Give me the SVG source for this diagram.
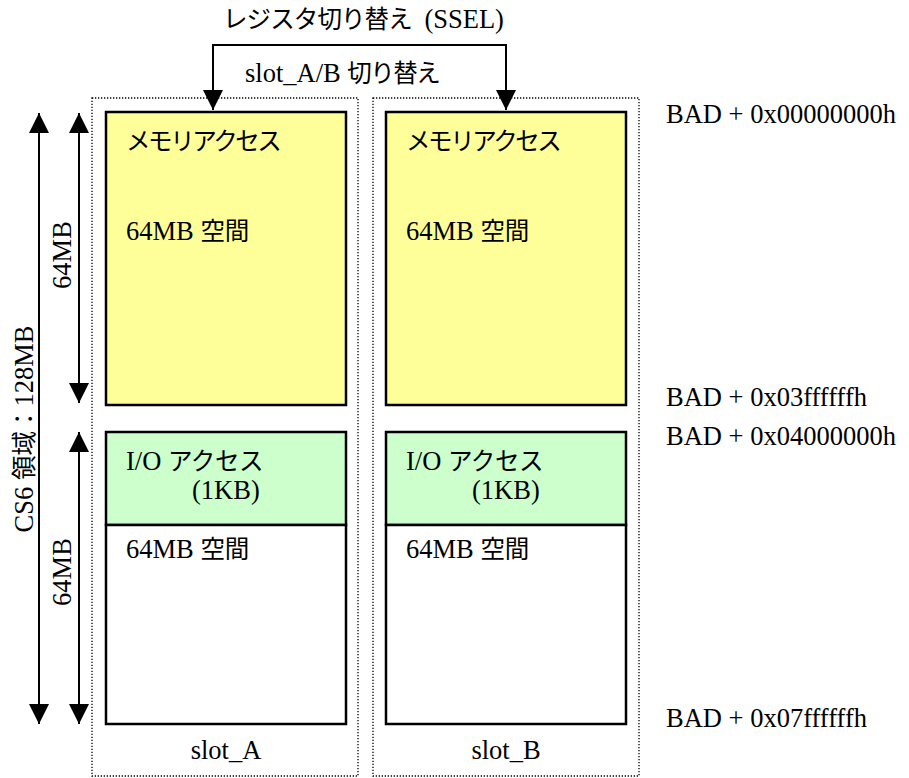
<svg xmlns="http://www.w3.org/2000/svg" width="909" height="778" viewBox="0 0 909 778">
<style>
.lat{font-family:"Liberation Serif","Times New Roman",serif;font-size:26.5px;fill:#000}
.jp{font-family:"Noto Sans CJK JP","Noto Sans CJK SC",sans-serif;font-size:24.5px}
.kata{letter-spacing:-2.4px}
.kata2{letter-spacing:-0.4px}
.top{letter-spacing:-0.9px}
.frame{fill:none;stroke:#000;stroke-width:1.3;stroke-dasharray:1.3 1.7}
.mem{fill:#FFFF99;stroke:#000;stroke-width:2.5}
.io{fill:#CCFFCC;stroke:#000;stroke-width:2.5}
.sp{fill:#FFFFFF;stroke:#000;stroke-width:2.5}
.wire{fill:none;stroke:#000;stroke-width:2}
</style>
<defs>
<marker id="ah" markerUnits="userSpaceOnUse" markerWidth="20" markerHeight="20" refX="20" refY="10" orient="auto-start-reverse" viewBox="0 0 20 20">
<path d="M0,0 L20,10 L0,20 Z" fill="#000"/>
</marker>
</defs>
<rect width="909" height="778" fill="#fff"/>

<g id="slot_A">
<rect class="frame" x="92" y="98" width="266" height="678"/>
<rect class="mem" x="106" y="112" width="240" height="293"/>
<rect class="io" x="106" y="432" width="240" height="93"/>
<rect class="sp" x="106" y="525" width="240" height="199"/>
<text class="jp kata" x="126" y="150">メモリアクセス</text>
<text class="lat" x="126" y="240">64MB <tspan class="jp">空間</tspan></text>
<text class="lat" x="126" y="470">I/O <tspan class="jp kata2">アクセス</tspan></text>
<text class="lat" x="192" y="499">(1KB)</text>
<text class="lat" x="126" y="558">64MB <tspan class="jp">空間</tspan></text>
<text class="lat" x="226" y="759" text-anchor="middle">slot_A</text>
</g>

<g id="slot_B">
<rect class="frame" x="373" y="98" width="266" height="678"/>
<rect class="mem" x="386" y="112" width="240" height="293"/>
<rect class="io" x="386" y="432" width="240" height="93"/>
<rect class="sp" x="386" y="525" width="240" height="199"/>
<text class="jp kata" x="406" y="150">メモリアクセス</text>
<text class="lat" x="406" y="240">64MB <tspan class="jp">空間</tspan></text>
<text class="lat" x="406" y="470">I/O <tspan class="jp kata2">アクセス</tspan></text>
<text class="lat" x="472" y="499">(1KB)</text>
<text class="lat" x="406" y="558">64MB <tspan class="jp">空間</tspan></text>
<text class="lat" x="506" y="759" text-anchor="middle">slot_B</text>
</g>

<g id="addresses">
<text class="lat" x="666" y="123">BAD + 0x00000000h</text>
<text class="lat" x="666" y="406">BAD + 0x03ffffffh</text>
<text class="lat" x="666" y="445">BAD + 0x04000000h</text>
<text class="lat" x="666" y="727">BAD + 0x07ffffffh</text>
</g>

<g id="labels">
<text class="lat" x="223" y="28"><tspan class="jp top">レジスタ切り替え</tspan><tspan dx="6"> (SSEL)</tspan></text>
<text class="lat" x="245" y="82">slot_A/B <tspan class="jp" style="letter-spacing:-1.5px">切り替え</tspan></text>
<text class="lat" text-anchor="middle" transform="translate(71,255) rotate(-90)">64MB</text>
<text class="lat" text-anchor="middle" transform="translate(71,572) rotate(-90)">64MB</text>
<text class="lat" text-anchor="middle" transform="translate(33,429) rotate(-90)">CS6 <tspan class="jp">領域：</tspan>128MB</text>
</g>

<g id="connectors">
<path class="wire" d="M213,110 V45 H506 V110" marker-start="url(#ah)" marker-end="url(#ah)"/>
<path class="wire" d="M39,113 V724" marker-start="url(#ah)" marker-end="url(#ah)"/>
<path class="wire" d="M79,113 V403" marker-start="url(#ah)" marker-end="url(#ah)"/>
<path class="wire" d="M79,432 V724" marker-start="url(#ah)" marker-end="url(#ah)"/>
</g>
</svg>
